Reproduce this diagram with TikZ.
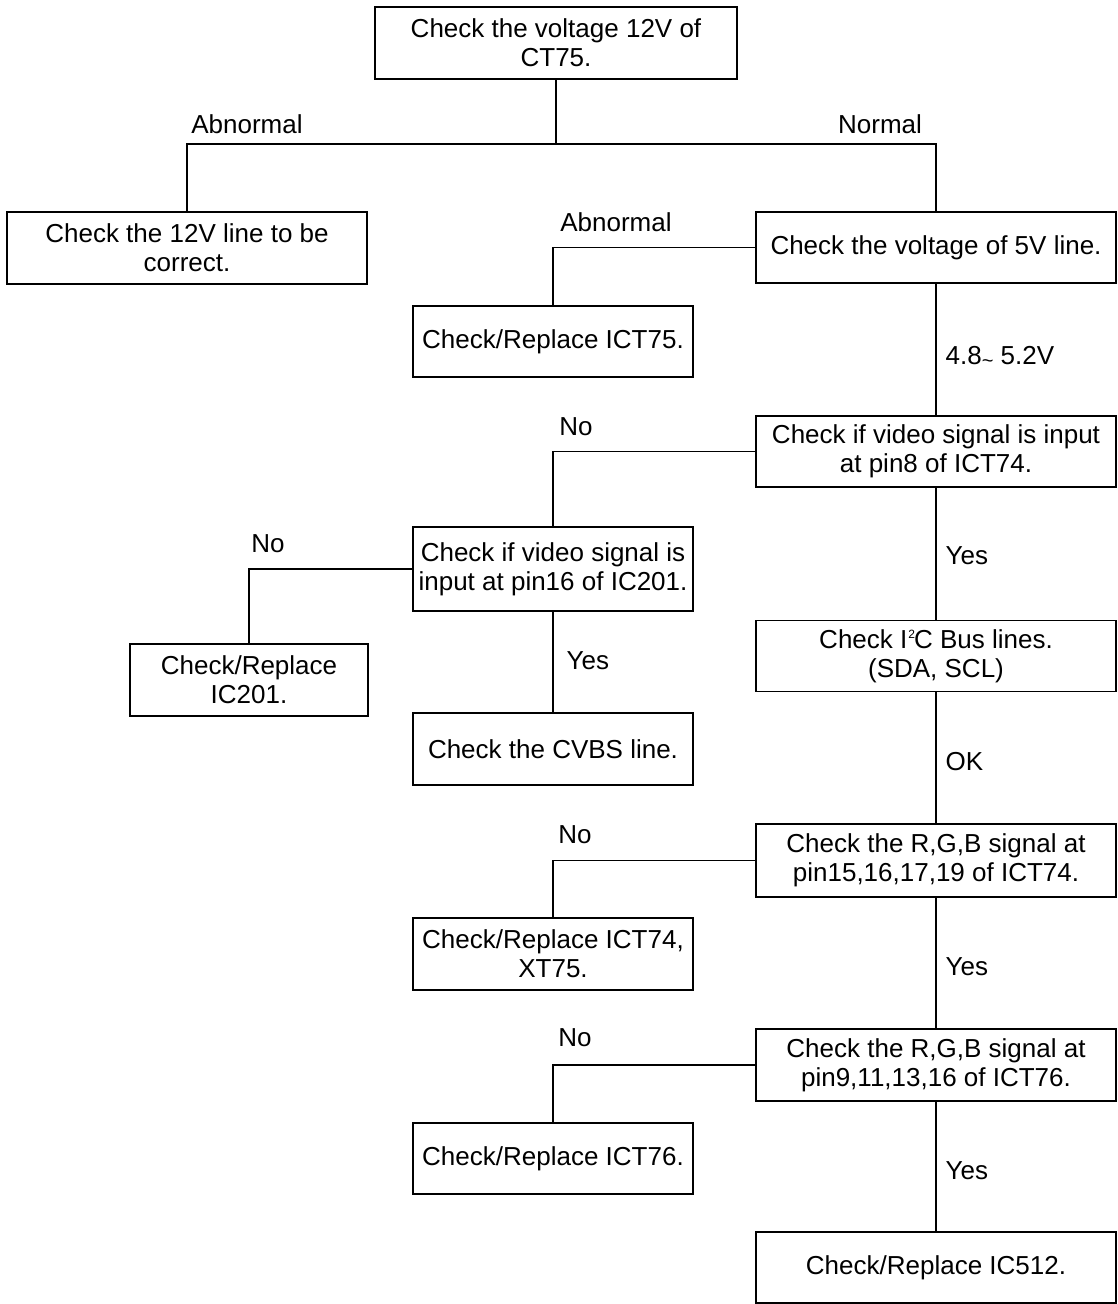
\documentclass[tikz,border=0pt]{standalone}
\usepackage{fontspec}
\setmainfont{Liberation Sans}									% 无衬线字体
\usepackage{tikz}

\begin{document}
\begin{tikzpicture}[x=1pt,y=-1pt,line width=1.2pt,
		every node/.style={font=\fontsize{26}{29}\selectfont},
		chkbox/.style={draw,align=center,inner sep=3pt},
		wide/.style={chkbox,minimum width=360pt,minimum height=72pt},
		mid/.style={chkbox,minimum width=280pt,minimum height=72pt}]
		\useasboundingbox (0,0) rectangle (1117,1304);
		\node [wide,minimum width=362pt] (top) at (556,43) {Check the voltage 12V of\\CT75.};
		\node [wide] (v12) at (187,248) {Check the 12V line to be\\correct.};
		\node [wide,minimum height=71pt] (v5) at (936,247.5) {Check the voltage of 5V line.};
		\node [mid,minimum height=71pt] (ict75) at (553,341.5) {Check/Replace ICT75.};
		\node [wide,minimum height=71pt] (vid74) at (936,451.5) {Check if video signal is input\\at pin8 of ICT74.};
		\node [mid,minimum height=84pt] (vid201) at (553,569) {Check if video signal is\\input at pin16 of IC201.};
		\node [chkbox,minimum width=238pt,minimum height=72pt] (rep201) at (249,680) {Check/Replace\\IC201.};
		\node [mid] (cvbs) at (553,749) {Check the CVBS line.};
		\node [wide,minimum height=71pt] (i2c) at (936,656) {Check I\kern1pt\raisebox{10pt}{\fontsize{12}{12}\selectfont 2}\kern-1pt C Bus lines.\\(SDA, SCL)};
		\node [wide,minimum height=73pt] (rgb74) at (936,860.5) {Check the R,G,B signal at\\pin15,16,17,19 of ICT74.};
		\node [mid] (rep74) at (553,954) {Check/Replace ICT74,\\XT75.};
		\node [wide] (rgb76) at (936,1065) {Check the R,G,B signal at\\pin9,11,13,16 of ICT76.};
		\node [mid,minimum height=71pt] (rep76) at (553,1158.5) {Check/Replace ICT76.};
		\node [wide,minimum height=71pt] (rep512) at (936,1267.5) {Check/Replace IC512.};

		\coordinate (split) at (556,144);
		\draw (top) -- (split);
		\draw (v12) |- (split) -| (v5);
		\draw (v5) -| (ict75);
		\draw (v5) -- (vid74);
		\draw (vid74) -| (vid201);
		\draw (vid74) -- (i2c);
		\draw (vid201) -| (rep201);
		\draw (vid201) -- (cvbs);
		\draw (i2c) -- (rgb74);
		\draw (rgb74) -| (rep74);
		\draw (rgb74) -- (rgb76);
		\draw (rgb76) -| (rep76);
		\draw (rgb76) -- (rep512);

		\node (abn1) at (247,124) {Abnormal};
		\node (nrm) at (880,124) {Normal};
		\node (abn2) at (616,222) {Abnormal};
		\node [anchor=west,inner sep=0pt] (volt) at (945,357) {4.8\raisebox{-3pt}{\fontsize{20}{20}\selectfont\textasciitilde}\ 5.2V};
		\node (no1) at (576,427) {No};
		\node (no2) at (268,544) {No};
		\node [anchor=west,inner sep=0pt] (yes1) at (945,556) {Yes};
		\node [anchor=west,inner sep=0pt] (yes2) at (566,661) {Yes};
		\node [anchor=west,inner sep=0pt] (ok) at (945,762) {OK};
		\node (no3) at (575,835) {No};
		\node [anchor=west,inner sep=0pt] (yes3) at (945,967) {Yes};
		\node (no4) at (575,1038) {No};
		\node [anchor=west,inner sep=0pt] (yes4) at (945,1171) {Yes};
	\end{tikzpicture}
\end{document}
